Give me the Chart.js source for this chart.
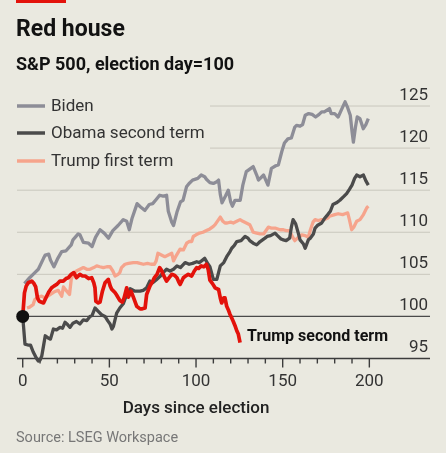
<!DOCTYPE html>
<html><head><meta charset="utf-8">
<script src="https://cdn.jsdelivr.net/npm/chart.js@4.4.1/dist/chart.umd.min.js"></script>
<style>
html,body{margin:0;padding:0;background:#eae9e0;}
canvas{display:block;}
</style></head><body>
<canvas id="c" width="446" height="453"></canvas>
<script>
// ---------- data ----------
const xTickDays = [0,10,20,30,40,50,60,70,80,90,100,110,120,130,140,150,160,170,180,190,200];
const xLabelDays = [0,50,100,150,200];
const yTickValues = [95,100,105,110,115,120,125];

const bidenDays = [1,4,6,9,12,13,15,16,18,20,22.5,25,28,29,32,33,35,38,40,42,44.6,47,49.5,52,55,58,60,61.5,63,66,68,70.5,73,75,77,79,81,83,84,86,87,89,91,92.5,94.5,96,98,101,103,105,106,108,110,112,113,114,115,117,118.6,120,121,122.5,125.5,127,129,131,133,135,136,138,139,141.5,143.5,146,147.5,149.5,151,153,155,157,158,160,161.5,163,165,167,169,171,172.5,174,177,178,180,182,184,186,187.5,189,190,190.8,192,193,194.6,196.5,198,199.4];
const bidenValues = [103.9,104.6,105.0,105.6,106.9,107.3,107.4,106.7,105.9,106.8,107.7,107.8,108.5,109.1,109.8,109.7,108.8,108.7,108.3,109.4,110.3,109.9,109.3,110.2,110.8,111.5,111.3,110.3,111.6,113.4,113.0,112.6,113.3,113.4,113.9,114.4,114.3,114.4,112.5,111.2,110.8,112.4,113.6,113.8,115.4,115.8,116.2,116.4,116.8,116.6,116.3,115.9,115.8,116.0,116.2,114.5,113.5,114.3,115.0,113.6,113.1,113.8,113.8,115.6,117.2,117.5,117.8,116.8,116.2,116.6,116.8,115.6,117.6,117.9,118.0,119.6,120.6,121.1,121.2,122.5,122.7,122.6,122.8,123.9,124.1,124.0,123.7,124.0,124.3,124.3,124.7,124.1,124.1,123.7,124.6,125.5,124.8,123.9,122.0,120.7,122.5,123.7,123.5,122.3,122.8,123.5];

const obamaDays = [0,1.3,3,4.5,6,8,9,10,11,12,13,15,16,17.7,19.5,21.5,23,24.4,26,27.3,29,31,33,35,37,38.8,40,41.7,43.6,45.5,47.5,49,50.4,51.5,52.3,54.2,56,58,60,62,64.8,67.7,69.5,71.5,73.4,75,77.3,79,81,83,85,87,89,91,93.7,96,98,100.4,102,105,107,108,110,112,114,116,117.7,119.6,120.6,122,123.5,126,128.3,130,131,133,135,137,139.8,141,143,145.6,147,149,150.4,152,154,155,156,157.5,159,160,162,163,164.8,166,167.7,168.7,170,172.5,174,176,177.5,179,181,183,185,186.9,188.5,190,191.5,192.7,194.6,196.6,198,199.4];
const obamaValues = [100,96.7,96.6,96.6,95.8,95.0,94.7,94.8,95.3,96.5,97.7,97.4,97.3,98.5,98.4,98.7,98.6,99.3,99.0,98.7,99.2,99.4,99.1,99.6,99.5,100.0,100.1,101.0,100.6,100.2,100.0,99.5,99.1,98.5,98.8,100.4,101.0,101.5,102.6,103.3,103.0,103.0,103.1,103.4,104.2,104.0,104.4,104.7,105.2,105.6,105.4,105.6,106.0,105.8,106.4,106.2,106.3,106.5,106.4,106.9,106.2,105.9,104.4,104.4,106.0,106.4,107.1,107.7,108.1,108.4,108.9,109.0,109.5,109.3,109.0,108.7,108.5,108.9,109.3,109.5,109.6,109.9,109.6,109.2,109.1,109.0,109.3,110.6,111.5,111.0,109.9,109.1,108.6,108.1,109.1,109.3,109.8,110.5,110.8,111.1,111.6,112.1,112.5,113.3,113.5,113.8,114.2,114.6,115.1,115.6,116.4,116.8,116.6,116.8,116.1,115.6];

const trump1Days = [2.5,4,6,7,9,11,13,15.8,18,20.5,22.5,23.5,25.4,27,28,29,31,33,35,37,38.8,41,42.7,44.5,46.5,48.5,50.4,52,53.3,55,56,57,59,61,63.8,66,67.7,69.6,72,74,76,77,78,80,82,84,86,87,88.5,90.8,92.7,94.6,96,97.5,98.4,100,102,104,106,108,110,111,113,114,115.5,116.7,118,120,121.5,123.5,125.4,127,129,131,133,135,137,139,141.7,143.5,145.6,148.5,150.4,152,154,155.5,157,158.5,160,161,163,164.8,166,167.5,168.7,170.5,172.5,174,176,177,180,182,184.6,186,187.5,188.5,189.8,191,192.7,194.6,196.6,198.5,199.4];
const trump1Values = [101.0,101.1,101.4,102.0,102.3,102.4,102.2,102.6,102.9,103.1,102.4,103.5,103.0,102.6,104.4,105.0,105.4,105.6,105.8,105.6,105.6,105.8,106.0,105.9,105.8,105.9,105.9,105.4,104.8,105.0,105.2,105.8,106.2,106.3,106.4,106.4,106.3,106.2,106.3,106.2,106.2,106.6,107.5,107.3,107.1,107.3,107.5,106.6,107.2,108.0,107.9,108.7,108.9,108.9,109.5,109.7,109.9,110.0,110.2,110.4,110.7,110.9,111.5,111.8,111.3,111.1,111.1,111.2,111.1,111.3,111.5,111.3,111.1,110.9,110.0,109.9,109.8,109.8,110.6,110.5,110.5,110.3,110.3,110.2,110.2,109.5,109.0,109.3,109.5,109.7,109.6,109.4,110.3,111.2,111.5,111.4,111.5,111.5,111.7,111.9,112.1,112.2,112.1,112.2,112.3,111.5,110.3,110.6,111.3,111.5,112.1,112.9,113.1];

const trump2Days = [0,1,2,3.2,5.2,6.5,7.5,8.5,9.5,12,13.8,15,16.7,18,19.6,21.5,23.4,25,26.3,28,29.5,31,33,34.5,36,38,39.8,41,41.7,42.2,43.6,44.6,46,47.5,49.4,50.5,51.4,53,54,56,57.5,58.5,60,61,62.5,64,65.8,67.7,69,70.6,71.5,73.4,75,76,77.5,79,80,81,83,84.5,86,87.5,89,90,90.8,92.7,94,95.5,97.5,99,100.4,101.5,103,104.5,106,107,108,109.5,111,113,114,114.8,116,116.7,117.7,118.6,119.5,120.6,121.5,122.5,123.5,124.4,125.4];
const trump2Values = [100,102.8,103.6,104.0,104.2,103.9,103.5,102.2,101.8,101.6,102.4,102.9,103.4,103.6,103.8,104.2,104.2,104.5,104.6,105.0,105.2,104.6,105.0,104.8,104.8,104.5,104.6,104.0,103.4,101.8,101.6,101.7,103.0,104.0,104.4,103.6,103.2,102.9,102.6,101.9,101.7,102.2,103.4,102.3,103.0,102.2,101.2,100.9,100.9,101.0,102.6,103.6,104.2,104.6,105.0,105.8,105.5,105.0,104.2,104.6,105.0,104.9,104.6,104.1,103.8,104.6,104.8,105.0,104.8,105.4,105.8,105.7,106.0,105.9,106.2,105.6,104.3,103.9,103.4,103.2,102.2,101.6,102.2,102.2,101.2,100.8,100.3,99.8,99.4,98.9,98.3,97.9,96.9];

const seriesNames = ['Biden','Obama second term','Trump first term','Trump second term'];

// ---------- styles ----------
const BG = '#eae9e0';
const C_BIDEN = '#8d8d97';
const C_OBAMA = '#4b4b4b';
const C_TRUMP1 = '#f6a48c';
const C_TRUMP2 = '#e3120b';
const FONT = 'Roboto, "Noto Sans", sans-serif';

const toXY = (d, v) => d.map((x, i) => ({x, y: v[i]}));
const lineStyle = (color, w) => ({
  borderColor: color, backgroundColor: color, borderWidth: w,
  pointRadius: 0, tension: 0, borderJoinStyle: 'round', clip: false, fill: false
});

const decor = {
  id: 'decor',
  beforeDraw(chart) {
    const ctx = chart.ctx;
    ctx.save();
    ctx.fillStyle = BG;
    ctx.fillRect(0, 0, chart.width, chart.height);
    ctx.restore();
  },
  beforeDatasetsDraw(chart) {
    const {ctx, chartArea: a, scales: {x, y}} = chart;
    ctx.save();
    yTickValues.forEach(v => {
      const py = y.getPixelForValue(v);
      ctx.beginPath();
      if (v === 95) {
        ctx.strokeStyle = '#3c3c3c'; ctx.lineWidth = 1.6;
      } else if (v === 100) {
        ctx.strokeStyle = '#4a4a4a'; ctx.lineWidth = 1.4;
      } else {
        ctx.strokeStyle = '#c9c7bd'; ctx.lineWidth = 1;
      }
      const x0 = v >= 120 ? 210 : a.left;
      ctx.moveTo(x0, py); ctx.lineTo(a.right, py);
      ctx.stroke();
    });
    const by = y.getPixelForValue(95);
    ctx.strokeStyle = '#3c3c3c'; ctx.lineWidth = 1.4;
    xTickDays.forEach(d => {
      const px = x.getPixelForValue(d);
      const len = d % 50 === 0 ? 9 : 5;
      ctx.beginPath(); ctx.moveTo(px, by); ctx.lineTo(px, by + len); ctx.stroke();
    });
    ctx.restore();
  },
  afterDraw(chart) {
    const {ctx, scales: {x, y}} = chart;
    ctx.save();
    // red tag
    ctx.fillStyle = C_TRUMP2;
    ctx.fillRect(16, 0, 50, 3);
    ctx.textBaseline = 'middle';
    ctx.textAlign = 'left';
    ctx.fillStyle = '#121212';
    ctx.font = 'bold 23px ' + FONT;
    ctx.fillText('Red house', 16, 30);
    ctx.font = 'bold 18px ' + FONT;
    ctx.fillText('S&P 500, election day=100', 16, 65);
    // legend
    const leg = [[seriesNames[0], C_BIDEN, 106], [seriesNames[1], C_OBAMA, 133], [seriesNames[2], C_TRUMP1, 161]];
    leg.forEach(([t, c, ly]) => {
      ctx.strokeStyle = c; ctx.lineWidth = 3.5;
      ctx.beginPath(); ctx.moveTo(17, ly); ctx.lineTo(45, ly); ctx.stroke();
      ctx.fillStyle = '#333';
      ctx.font = '17px ' + FONT;
      ctx.fillText(t, 51, ly + 1);
    });
    // direct label for red line
    const lx = x.getPixelForValue(trump2Days[trump2Days.length - 1]) + 7;
    const lyv = y.getPixelForValue(trump2Values[trump2Values.length - 1]) - 6;
    ctx.fillStyle = '#121212';
    ctx.font = 'bold 16px ' + FONT;
    ctx.fillText(seriesNames[3], lx, lyv);
    // x title
    ctx.textAlign = 'center';
    ctx.font = '500 17px ' + FONT;
    ctx.fillStyle = '#222';
    ctx.fillText('Days since election', x.getPixelForValue(100), 409);
    // source
    ctx.textAlign = 'left';
    ctx.font = '14.5px ' + FONT;
    ctx.fillStyle = '#777';
    ctx.fillText('Source: LSEG Workspace', 16, 438);
    ctx.restore();
  }
};

new Chart(document.getElementById('c'), {
  type: 'line',
  data: {
    datasets: [
      {label: 'election day', data: [{x: 0, y: 100}], showLine: false, pointRadius: 6.5, pointHoverRadius: 6.5,
       pointBackgroundColor: '#111', pointBorderColor: '#111', borderWidth: 0, clip: false},
      Object.assign({label: seriesNames[3], data: toXY(trump2Days, trump2Values)}, lineStyle(C_TRUMP2, 3.7)),
      Object.assign({label: seriesNames[1], data: toXY(obamaDays, obamaValues)}, lineStyle(C_OBAMA, 3.3)),
      Object.assign({label: seriesNames[2], data: toXY(trump1Days, trump1Values)}, lineStyle(C_TRUMP1, 3.3)),
      Object.assign({label: seriesNames[0], data: toXY(bidenDays, bidenValues)}, lineStyle(C_BIDEN, 3.3))
    ]
  },
  options: {
    responsive: false,
    animation: false,
    events: [],
    layout: {padding: {left: 17, right: 16, top: 93.4, bottom: 54.5}},
    plugins: {legend: {display: false}, tooltip: {enabled: false}, title: {display: false}},
    scales: {
      x: {
        type: 'linear', min: -3.3, max: 235,
        grid: {display: false, drawTicks: false},
        border: {display: false},
        afterBuildTicks: s => { s.ticks = xLabelDays.map(v => ({value: v})); },
        afterFit: s => { s.height = 40; },
        ticks: {padding: 13, color: '#333', font: {family: FONT, size: 17}, maxRotation: 0, autoSkip: false}
      },
      y: {
        type: 'linear', position: 'right', min: 95, max: 126.5,
        grid: {display: false, drawTicks: false},
        border: {display: false},
        afterBuildTicks: s => { s.ticks = yTickValues.map(v => ({value: v})); },
        afterFit: s => { s.width = 0; },
        ticks: {mirror: true, padding: -2, labelOffset: -10.5, color: '#333', font: {family: FONT, size: 17}}
      }
    }
  },
  plugins: [decor]
});
</script>
</body></html>
